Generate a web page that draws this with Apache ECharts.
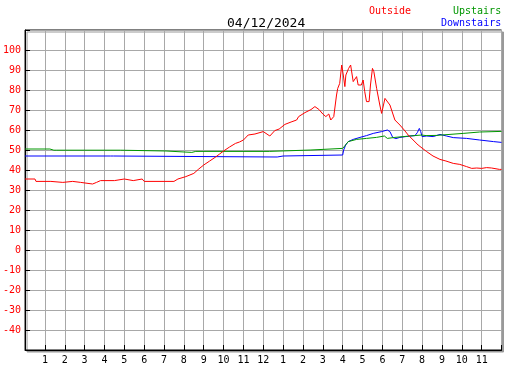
<!DOCTYPE html>
<html>
<head>
<meta charset="utf-8">
<script src="https://cdn.jsdelivr.net/npm/echarts@6/dist/echarts.min.js"></script>
<style>
  html, body { margin: 0; padding: 0; background: #fff; }
  #chart { width: 527px; height: 370px; }
</style>
</head>
<body>
<div id="chart"></div>
<script>
// temperatures over the day, [hour, degrees]
const outside = [
    [0, 35.5], [0.5, 35.5], [0.55, 34.3], [1.3, 34.3], [1.35, 33.8], [1.9, 33.8], [1.95, 34.3],
    [2.4, 34.3], [2.45, 33.8], [2.8, 33.8], [2.9, 33], [3.4, 33], [3.6, 33.8], [3.8, 34.7],
    [4.5, 34.7], [4.55, 35.5], [5.0, 35.5], [5.05, 34.7], [5.45, 34.7], [5.5, 35.5], [5.9, 35.5],
    [6.0, 34.3], [7.5, 34.3], [7.7, 35.5], [8.1, 36.7], [8.5, 38.3], [8.75, 40.5], [9.0, 42.5],
    [9.3, 44.5], [9.6, 46.5], [9.8, 48], [10.0, 49.5], [10.3, 51.5], [10.6, 53.3], [10.8, 54],
    [11.0, 55], [11.24, 57.5], [11.58, 58], [11.66, 57], [12.0, 59.2], [12.33, 57], [12.58, 59.7],
    [12.8, 60.5], [13.09, 62.8], [13.4, 64], [13.68, 65], [13.78, 66.7], [14.1, 68.7], [14.4, 70.2],
    [14.6, 71.7], [14.8, 70.3], [15.0, 68], [15.15, 66.7], [15.3, 68], [15.4, 65], [15.55, 66.7],
    [15.69, 77.5], [15.75, 80.8], [15.85, 83.3], [15.95, 92.5], [16.03, 87.5], [16.11, 81.7],
    [16.16, 87.5], [16.3, 90.8], [16.4, 92.5], [16.53, 84.2], [16.7, 86.7], [16.78, 82.5],
    [16.94, 82.5], [17.03, 85], [17.11, 79.2], [17.2, 74.2], [17.33, 74.2], [17.4, 82.5],
    [17.5, 90.8], [17.57, 89.2], [17.71, 80.8], [17.87, 72.5], [17.96, 68.3], [18.04, 68.3],
    [18.13, 75.8], [18.21, 76.7], [18.38, 72.5], [18.63, 65], [18.88, 62.5], [19.1, 60],
    [19.3, 57.5], [19.5, 55.5], [19.8, 52.5], [20.23, 49.2], [20.55, 47], [20.9, 45.3],
    [21.2, 44.5], [21.57, 43.3], [21.9, 42.8], [22.24, 41.7], [22.5, 40.8], [22.75, 41],
    [23.0, 40.8], [23.25, 41.2], [23.5, 41], [23.9, 40.3], [24, 40.3]
];

const upstairs = [
    [0, 50.5], [1.25, 50.5], [1.3, 49.9], [1.45, 49.9], [1.5, 50.4], [1.6, 49.9], [4.8, 49.9],
    [4.85, 49.5], [7.1, 49.5], [7.15, 48.8], [8.4, 48.8], [8.45, 49.5], [8.5, 49.0], [8.6, 49.3],
    [12.3, 49.3], [12.35, 50], [14.4, 50], [14.45, 50.6], [16.0, 50.8], [16.1, 52], [16.28, 54.2],
    [16.7, 55.3], [17.2, 55.8], [17.7, 56.3], [18.1, 57], [18.25, 55.8], [18.63, 56.3],
    [19.39, 57], [19.98, 57.5], [20.05, 56.7], [20.2, 57.2], [20.73, 57.3], [22.07, 58.3],
    [22.9, 59], [24, 59.3]
];

const downstairs = [
    [0, 47], [4.3, 47], [4.35, 46.5], [4.45, 47], [4.5, 46.5], [12.7, 46.5], [12.75, 47],
    [13.0, 47], [13.05, 46.5], [13.1, 47.2], [16.0, 47.5], [16.05, 50], [16.15, 52.5],
    [16.28, 54.2], [16.53, 55.3], [16.87, 56.3], [17.2, 57.2], [17.54, 58.3], [17.96, 59.2],
    [18.25, 60], [18.38, 59.2], [18.52, 56.3], [18.68, 55.7], [18.88, 56.3], [19.39, 57],
    [19.64, 57.2], [19.76, 58.7], [19.86, 60.8], [19.93, 59.2], [20.0, 56.7], [20.23, 57],
    [20.56, 56.7], [20.9, 57.8], [21.23, 57], [21.57, 56.2], [22.24, 55.8], [22.9, 55],
    [23.6, 54.2], [24, 53.8]
];

const dateLabel = '04/12/2024';
const seriesNames = ['Outside', 'Upstairs', 'Downstairs'];
const seriesColors = ['#ff0000', '#009600', '#0000ff'];

const mono = 'DejaVu Sans Mono';
const chart = echarts.init(document.getElementById('chart'));

function hourLabel(h) {
    if (h <= 0 || h >= 24) return '';
    return String(h % 12 || 12);
}

const option = {
    animation: false,
    backgroundColor: '#ffffff',
    title: {
        text: dateLabel,
        left: 222,
        top: 12,
        textStyle: { fontFamily: mono, fontSize: 13, fontWeight: 'normal', color: '#000' }
    },
    graphic: [
        { type: 'text', left: 369, top: 6, style: { text: seriesNames[0], fill: seriesColors[0], font: '10px ' + mono } },
        { type: 'text', left: 453, top: 6, style: { text: seriesNames[1], fill: seriesColors[1], font: '10px ' + mono } },
        { type: 'text', left: 441, top: 18, style: { text: seriesNames[2], fill: seriesColors[2], font: '10px ' + mono } }
    ],
    grid: {
        left: 25,
        right: 25.5,
        top: 30,
        bottom: 20,
        show: true,
        backgroundColor: '#fff',
        borderColor: '#000',
        borderWidth: 1,
        shadowColor: '#999',
        shadowOffsetX: 2,
        shadowOffsetY: 2,
        shadowBlur: 0
    },
    xAxis: {
        type: 'value',
        min: 0,
        max: 24,
        interval: 1,
        axisLine: { onZero: false, lineStyle: { color: '#000', width: 1 } },
        axisTick: { inside: true, length: 5, lineStyle: { color: '#000' } },
        axisLabel: {
            formatter: hourLabel,
            margin: 5,
            color: '#000',
            fontFamily: mono,
            fontSize: 10
        },
        splitLine: { show: true, lineStyle: { color: '#a8a8a8', width: 1 } }
    },
    yAxis: {
        type: 'value',
        min: -50,
        max: 110,
        interval: 10,
        axisLine: { show: true, onZero: false, lineStyle: { color: '#000', width: 1 } },
        axisTick: { show: true, inside: true, length: 5, lineStyle: { color: '#000' } },
        axisLabel: {
            formatter: v => (v <= -50 || v >= 110) ? '' : String(v),
            margin: 4,
            color: '#ff0000',
            fontFamily: mono,
            fontSize: 10
        },
        splitLine: { show: true, lineStyle: { color: '#a8a8a8', width: 1 } }
    },
    series: [outside, upstairs, downstairs].map((d, i) => ({
        name: seriesNames[i],
        type: 'line',
        data: d,
        showSymbol: false,
        symbol: 'none',
        lineStyle: { color: seriesColors[i], width: 1 },
        itemStyle: { color: seriesColors[i] },
        z: 3 - i
    }))
};

chart.setOption(option);
</script>
</body>
</html>
